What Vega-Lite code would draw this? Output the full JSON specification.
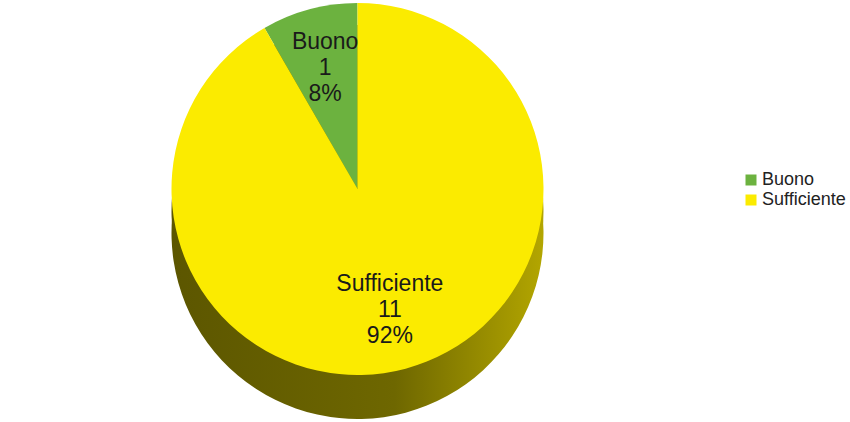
{
  "$schema": "https://vega.github.io/schema/vega-lite/v6.json",
  "width": 715,
  "height": 422,
  "padding": 0,
  "background": "white",
  "config": {"view": {"stroke": null}},
  "data": {
    "values": [
      {"category": "Buono", "count": 1, "share": 0.0833},
      {"category": "Sufficiente", "count": 11, "share": 0.9167}
    ]
  },
  "encoding": {
    "theta": {"field": "count", "type": "quantitative", "stack": true},
    "order": {"field": "category", "sort": "descending"}
  },
  "layer": [
    {
      "mark": {
        "type": "arc",
        "outerRadius": 186,
        "yOffset": 22,
        "fill": {
          "gradient": "linear",
          "x1": 0, "y1": 0, "x2": 1, "y2": 0,
          "stops": [
            {"offset": 0, "color": "#5c5600"},
            {"offset": 0.6, "color": "#6e6700"},
            {"offset": 1, "color": "#b3a600"}
          ]
        }
      }
    },
    {
      "mark": {
        "type": "arc",
        "outerRadius": 186,
        "yOffset": 0,
        "fill": {
          "gradient": "linear",
          "x1": 0, "y1": 0, "x2": 1, "y2": 0,
          "stops": [
            {"offset": 0, "color": "#5c5600"},
            {"offset": 0.6, "color": "#6e6700"},
            {"offset": 1, "color": "#b3a600"}
          ]
        }
      }
    },
    {
      "mark": {"type": "arc", "outerRadius": 186, "yOffset": -22},
      "encoding": {
        "color": {
          "field": "category",
          "type": "nominal",
          "scale": {"domain": ["Buono", "Sufficiente"], "range": ["#6cb23f", "#fbeb00"]},
          "legend": {
            "orient": "none",
            "legendX": 742,
            "legendY": 171,
            "title": null,
            "symbolType": "square",
            "symbolSize": 121,
            "symbolStrokeWidth": 0,
            "labelFont": "Liberation Sans",
            "labelFontSize": 18,
            "labelColor": "#222222",
            "padding": 0,
            "rowPadding": 2,
            "labelOffset": 2
          }
        }
      }
    },
    {
      "mark": {"type": "text", "radius": 125, "yOffset": -22, "dy": -26, "font": "Liberation Sans", "fontSize": 23, "color": "#1a1a1a", "baseline": "middle", "align": "center"},
      "encoding": {"text": {"field": "category", "type": "nominal"}}
    },
    {
      "mark": {"type": "text", "radius": 125, "yOffset": -22, "dy": 0, "font": "Liberation Sans", "fontSize": 23, "color": "#1a1a1a", "baseline": "middle", "align": "center"},
      "encoding": {"text": {"field": "count", "type": "quantitative"}}
    },
    {
      "mark": {"type": "text", "radius": 125, "yOffset": -22, "dy": 26, "font": "Liberation Sans", "fontSize": 23, "color": "#1a1a1a", "baseline": "middle", "align": "center"},
      "encoding": {"text": {"field": "share", "type": "quantitative", "format": ".0%"}}
    }
  ]
}
